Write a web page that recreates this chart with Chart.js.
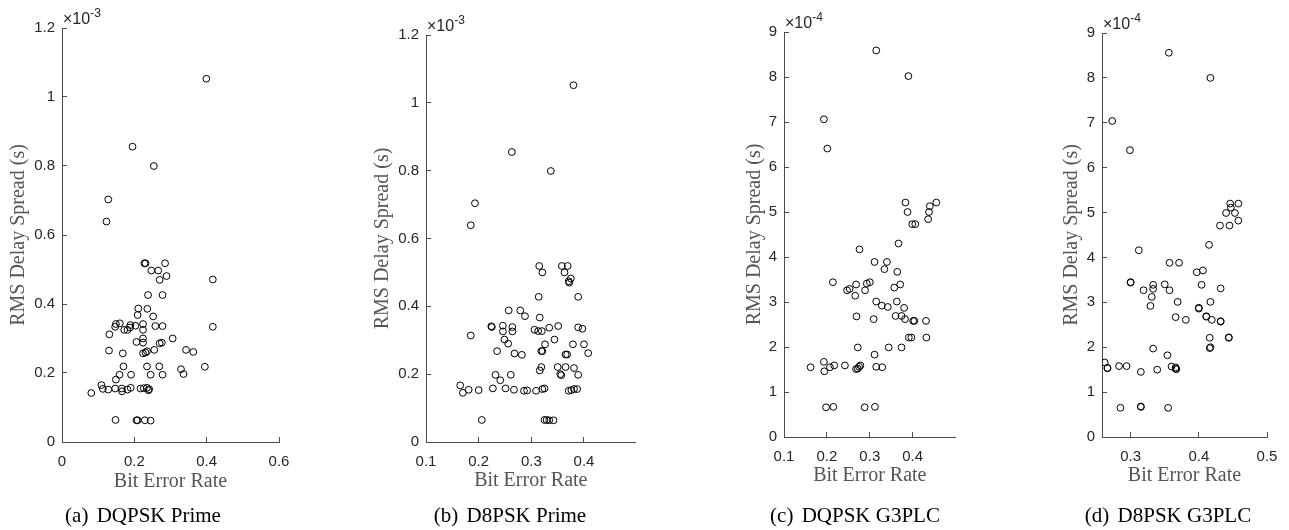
<!DOCTYPE html>
<html>
<head>
<meta charset="utf-8">
<title>BER vs RMS delay spread</title>
<script src="https://cdn.jsdelivr.net/npm/chart.js@4.4.1/dist/chart.umd.min.js"></script>
<style>
  html, body { margin: 0; padding: 0; background: #fff; overflow: hidden; }
  #page { position: relative; width: 1289px; height: 530px; }
  canvas { position: absolute; top: 0; }
  .caption { position: absolute; top: 503px; line-height: 24px; transform: translateX(-50%);
             font: 21px "Liberation Serif", "Times New Roman", serif; color: #000; white-space: nowrap; }
  .caption span { margin-left: 3px; }
</style>
</head>
<body>
<div id="page">
  <canvas id="cA" width="320" height="530" style="left:0"></canvas>
  <canvas id="cB" width="320" height="530" style="left:320px"></canvas>
  <canvas id="cC" width="320" height="530" style="left:640px"></canvas>
  <canvas id="cD" width="329" height="530" style="left:960px"></canvas>
  <div class="caption" style="left:143px">(a)<span> DQPSK Prime</span></div>
  <div class="caption" style="left:510px">(b)<span> D8PSK Prime</span></div>
  <div class="caption" style="left:855px">(c)<span> DQPSK G3PLC</span></div>
  <div class="caption" style="left:1168px">(d)<span> D8PSK G3PLC</span></div>
</div>
<script>
/* RMS delay spread is kept in the units shown on the axes (x10^-3 s for Prime, x10^-4 s for G3PLC). */

// (a) DQPSK Prime
const berA = [0.399, 0.195, 0.254, 0.128, 0.123,
  0.228, 0.231, 0.285, 0.247, 0.266, 0.289, 0.270, 0.417, 0.238, 0.278, 0.211, 0.236, 0.209, 0.252,
  0.149, 0.160, 0.147, 0.172, 0.181, 0.188, 0.189, 0.203, 0.224, 0.224, 0.258, 0.278, 0.417, 0.131,
  0.224, 0.206, 0.224, 0.270, 0.276, 0.306, 0.130, 0.168, 0.224, 0.231, 0.235, 0.255, 0.343, 0.363,
  0.170, 0.235, 0.269, 0.329, 0.336, 0.395, 0.159, 0.149, 0.191, 0.245, 0.278, 0.109, 0.081, 0.113,
  0.128, 0.147, 0.165, 0.166, 0.181, 0.190, 0.217, 0.226, 0.235, 0.239, 0.241,
  0.148, 0.206, 0.209, 0.229, 0.245];
const spreadA = [1.053, 0.856, 0.800, 0.703, 0.639,
  0.518, 0.518, 0.518, 0.497, 0.497, 0.481, 0.470, 0.471, 0.426, 0.426, 0.387, 0.386, 0.368, 0.364,
  0.342, 0.344, 0.334, 0.325, 0.325, 0.332, 0.339, 0.337, 0.342, 0.325, 0.336, 0.336, 0.334, 0.312,
  0.300, 0.290, 0.288, 0.286, 0.288, 0.300, 0.265, 0.257, 0.257, 0.259, 0.263, 0.267, 0.267, 0.261,
  0.219, 0.219, 0.219, 0.211, 0.197, 0.218, 0.195, 0.181, 0.195, 0.195, 0.195, 0.165, 0.142, 0.154,
  0.152, 0.155, 0.155, 0.147, 0.152, 0.157, 0.155, 0.156, 0.157, 0.150, 0.153,
  0.064, 0.063, 0.063, 0.063, 0.062];

// (b) D8PSK Prime
const berB = [0.380, 0.263, 0.337, 0.193, 0.185,
  0.315, 0.321, 0.358, 0.369, 0.363, 0.375, 0.371, 0.372, 0.314, 0.389, 0.257, 0.279, 0.288, 0.316,
  0.224, 0.225, 0.246, 0.264, 0.246, 0.264, 0.306, 0.313, 0.320, 0.334, 0.351, 0.389, 0.397, 0.185,
  0.249, 0.256, 0.326, 0.344, 0.379, 0.400, 0.235, 0.268, 0.282, 0.319, 0.321, 0.365, 0.368, 0.408,
  0.316, 0.319, 0.350, 0.365, 0.381, 0.355, 0.357, 0.389, 0.232, 0.241, 0.261,
  0.165, 0.170, 0.181, 0.200, 0.227, 0.251, 0.267, 0.286, 0.292, 0.309, 0.321, 0.325, 0.371, 0.376,
  0.381, 0.387, 0.206, 0.325, 0.329, 0.334, 0.342];
const spreadB = [1.052, 0.855, 0.799, 0.704, 0.639,
  0.519, 0.500, 0.519, 0.519, 0.500, 0.482, 0.474, 0.470, 0.428, 0.428, 0.388, 0.388, 0.371, 0.367,
  0.341, 0.339, 0.343, 0.339, 0.326, 0.326, 0.331, 0.327, 0.327, 0.337, 0.342, 0.338, 0.334, 0.314,
  0.302, 0.290, 0.288, 0.302, 0.288, 0.288, 0.268, 0.261, 0.257, 0.268, 0.268, 0.258, 0.258, 0.262,
  0.211, 0.221, 0.221, 0.221, 0.218, 0.200, 0.197, 0.198, 0.198, 0.182, 0.198,
  0.167, 0.145, 0.154, 0.153, 0.158, 0.158, 0.154, 0.151, 0.152, 0.151, 0.156, 0.158, 0.151, 0.153,
  0.156, 0.156, 0.065, 0.065, 0.065, 0.064, 0.064];

// (c) DQPSK G3PLC
const berC = [0.315, 0.390, 0.193, 0.201,
  0.383, 0.388, 0.440, 0.455, 0.438, 0.436, 0.399, 0.406, 0.367, 0.276, 0.311, 0.340, 0.334, 0.364,
  0.214, 0.247, 0.253, 0.268, 0.266, 0.289, 0.293, 0.300, 0.357, 0.371, 0.315, 0.328, 0.342, 0.363,
  0.380, 0.269, 0.309, 0.360, 0.374, 0.382, 0.401, 0.404, 0.431, 0.391, 0.397, 0.432, 0.272, 0.344,
  0.374, 0.311, 0.162, 0.193, 0.194, 0.207, 0.217, 0.242, 0.268, 0.272, 0.275, 0.278, 0.315, 0.329,
  0.198, 0.215, 0.288, 0.312];
const spreadC = [8.59, 8.02, 7.06, 6.41,
  5.21, 5.00, 5.13, 5.21, 5.00, 4.84, 4.73, 4.73, 4.30, 4.17, 3.89, 3.89, 3.73, 3.67,
  3.44, 3.26, 3.29, 3.39, 3.14, 3.26, 3.41, 3.44, 3.32, 3.39, 3.01, 2.92, 2.89, 3.01,
  2.87, 2.68, 2.62, 2.69, 2.69, 2.62, 2.58, 2.58, 2.58, 2.21, 2.21, 2.21, 1.99, 1.99,
  1.99, 1.83, 1.55, 1.67, 1.46, 1.55, 1.59, 1.59, 1.51, 1.52, 1.56, 1.59, 1.56, 1.55,
  0.66, 0.67, 0.66, 0.67];

// (d) D8PSK G3PLC
const berD = [0.356, 0.417, 0.273, 0.299,
  0.446, 0.458, 0.447, 0.440, 0.453, 0.458, 0.431, 0.445, 0.415, 0.312, 0.357, 0.371, 0.397, 0.406,
  0.300, 0.300, 0.319, 0.333, 0.333, 0.350, 0.357, 0.331, 0.329, 0.369, 0.404, 0.432, 0.417, 0.400,
  0.400, 0.366, 0.381, 0.411, 0.411, 0.419, 0.432, 0.432, 0.416, 0.444, 0.444, 0.416, 0.417, 0.333,
  0.354, 0.262, 0.266, 0.266, 0.283, 0.294, 0.315, 0.339, 0.360, 0.366, 0.367, 0.366,
  0.285, 0.315, 0.315, 0.355];
const spreadD = [8.56, 8.00, 7.04, 6.39,
  5.20, 5.20, 5.11, 4.99, 4.99, 4.82, 4.71, 4.71, 4.28, 4.16, 3.88, 3.88, 3.67, 3.71,
  3.44, 3.45, 3.27, 3.39, 3.30, 3.40, 3.27, 3.12, 2.92, 3.01, 3.39, 3.31, 3.01, 2.88,
  2.86, 2.67, 2.61, 2.69, 2.68, 2.61, 2.58, 2.57, 2.21, 2.21, 2.22, 1.98, 2.00, 1.97,
  1.82, 1.66, 1.54, 1.53, 1.58, 1.58, 1.45, 1.50, 1.57, 1.55, 1.51, 1.52,
  0.65, 0.68, 0.67, 0.65];

// axis limits and tick labels
const xRangeA = [0, 0.6],     xTicksA = [0, 0.2, 0.4, 0.6];
const xRangeB = [0.1, 0.498], xTicksB = [0.1, 0.2, 0.3, 0.4];
const xRangeC = [0.1, 0.5],   xTicksC = [0.1, 0.2, 0.3, 0.4];
const xRangeD = [0.258, 0.5], xTicksD = [0.3, 0.4, 0.5];
const yRangePrime = [0, 1.2], yTicksPrime = [0, 0.2, 0.4, 0.6, 0.8, 1, 1.2];
const yRangeG3 = [0, 9],      yTicksG3 = [0, 1, 2, 3, 4, 5, 6, 7, 8, 9];

const AXIS = '#4d4d4d';
const TICK_TEXT = '#262626';
const TITLE_TEXT = '#555555';

// "x10^-n" multiplier drawn above the top-left corner of the axes
var expLabel = {
  id: 'expLabel',
  afterDraw: function (chart, args, opts) {
    var a = chart.chartArea, ctx = chart.ctx;
    ctx.save();
    ctx.fillStyle = TICK_TEXT;
    ctx.textBaseline = 'alphabetic';
    ctx.textAlign = 'left';
    ctx.font = '16px "Liberation Sans", Arial, sans-serif';
    ctx.fillText('\u00d710', a.left + 1, a.top - 4);
    var w = ctx.measureText('\u00d710').width;
    ctx.font = '12px "Liberation Sans", Arial, sans-serif';
    ctx.fillText(opts.power, a.left + 1 + w, a.top - 11);
    ctx.restore();
  }
};

function fmt(v) { return String(+v.toFixed(3)); }

// p: canvas-relative plot-area edges and axis title centres
function scatterPanel(p, ber, spread, xRange, xTicks, yRange, yTicks, power) {
  var H = 530;
  var yTitleLeft = p.yTitleX - 12;   // title line height 24 -> half is 12
  var xBoxBottom = p.xTitleY + 12;
  var pts = ber.map(function (b, i) { return { x: b, y: spread[i] }; });

  new Chart(document.getElementById(p.id), {
    type: 'scatter',
    data: {
      datasets: [{
        data: pts,
        pointStyle: 'circle',
        pointRadius: 3.4,
        pointHoverRadius: 3.4,
        pointBorderWidth: 1,
        borderColor: '#000',
        backgroundColor: 'rgba(0,0,0,0)'
      }]
    },
    options: {
      responsive: false,
      animation: false,
      events: [],
      layout: {
        padding: {
          left: yTitleLeft,
          top: p.top,
          right: p.canvasW - p.right,
          bottom: H - xBoxBottom
        }
      },
      plugins: {
        legend: { display: false },
        tooltip: { enabled: false },
        expLabel: { power: power }
      },
      scales: {
        x: {
          type: 'linear',
          min: xRange[0],
          max: xRange[1],
          afterBuildTicks: function (s) { s.ticks = xTicks.map(function (v) { return { value: v }; }); },
          afterFit: function (s) { s.height = xBoxBottom - p.bottom; s.paddingLeft = 0; s.paddingRight = 0; },
          border: { color: AXIS, width: 1 },
          grid: { drawOnChartArea: false, tickLength: -5, tickColor: AXIS },
          ticks: {
            padding: 16, autoSkip: false, maxRotation: 0, color: TICK_TEXT,
            font: { family: '"Liberation Sans", Arial, sans-serif', size: 15 },
            callback: fmt
          },
          title: {
            display: true, text: 'Bit Error Rate', color: TITLE_TEXT, padding: 0,
            font: { family: '"Liberation Serif", "Times New Roman", serif', size: 20, lineHeight: 1.2 }
          }
        },
        y: {
          type: 'linear',
          min: yRange[0],
          max: yRange[1],
          afterBuildTicks: function (s) { s.ticks = yTicks.map(function (v) { return { value: v }; }); },
          afterFit: function (s) { s.width = p.left - yTitleLeft; s.paddingTop = 0; s.paddingBottom = 0; },
          border: { color: AXIS, width: 1 },
          grid: { drawOnChartArea: false, tickLength: -5, tickColor: AXIS },
          ticks: {
            padding: 12, autoSkip: false, color: TICK_TEXT,
            font: { family: '"Liberation Sans", Arial, sans-serif', size: 15 },
            callback: fmt
          },
          title: {
            display: true, text: 'RMS Delay Spread (s)', color: TITLE_TEXT, padding: 0,
            font: { family: '"Liberation Serif", "Times New Roman", serif', size: 20, lineHeight: 1.2 }
          }
        }
      }
    },
    plugins: [expLabel]
  });
}

// page-relative geometry -> canvas-relative
function geo(id, canvasX, canvasW, left, right, top, bottom, yTitleX, xTitleY) {
  return {
    id: id, canvasW: canvasW,
    left: left - canvasX, right: right - canvasX, top: top, bottom: bottom,
    yTitleX: yTitleX - canvasX, xTitleY: xTitleY
  };
}

scatterPanel(geo('cA', 0, 320, 62, 279, 28, 442, 19, 482), berA, spreadA, xRangeA, xTicksA, yRangePrime, yTicksPrime, '-3');
scatterPanel(geo('cB', 320, 320, 426, 642, 35, 442, 383, 481), berB, spreadB, xRangeB, xTicksB, yRangePrime, yTicksPrime, '-3');
scatterPanel(geo('cC', 640, 320, 784, 959, 32, 437, 755, 476), berC, spreadC, xRangeC, xTicksC, yRangeG3, yTicksG3, '-4');
scatterPanel(geo('cD', 960, 329, 1102, 1267, 33, 437, 1072, 476), berD, spreadD, xRangeD, xTicksD, yRangeG3, yTicksG3, '-4');
</script>
</body>
</html>
